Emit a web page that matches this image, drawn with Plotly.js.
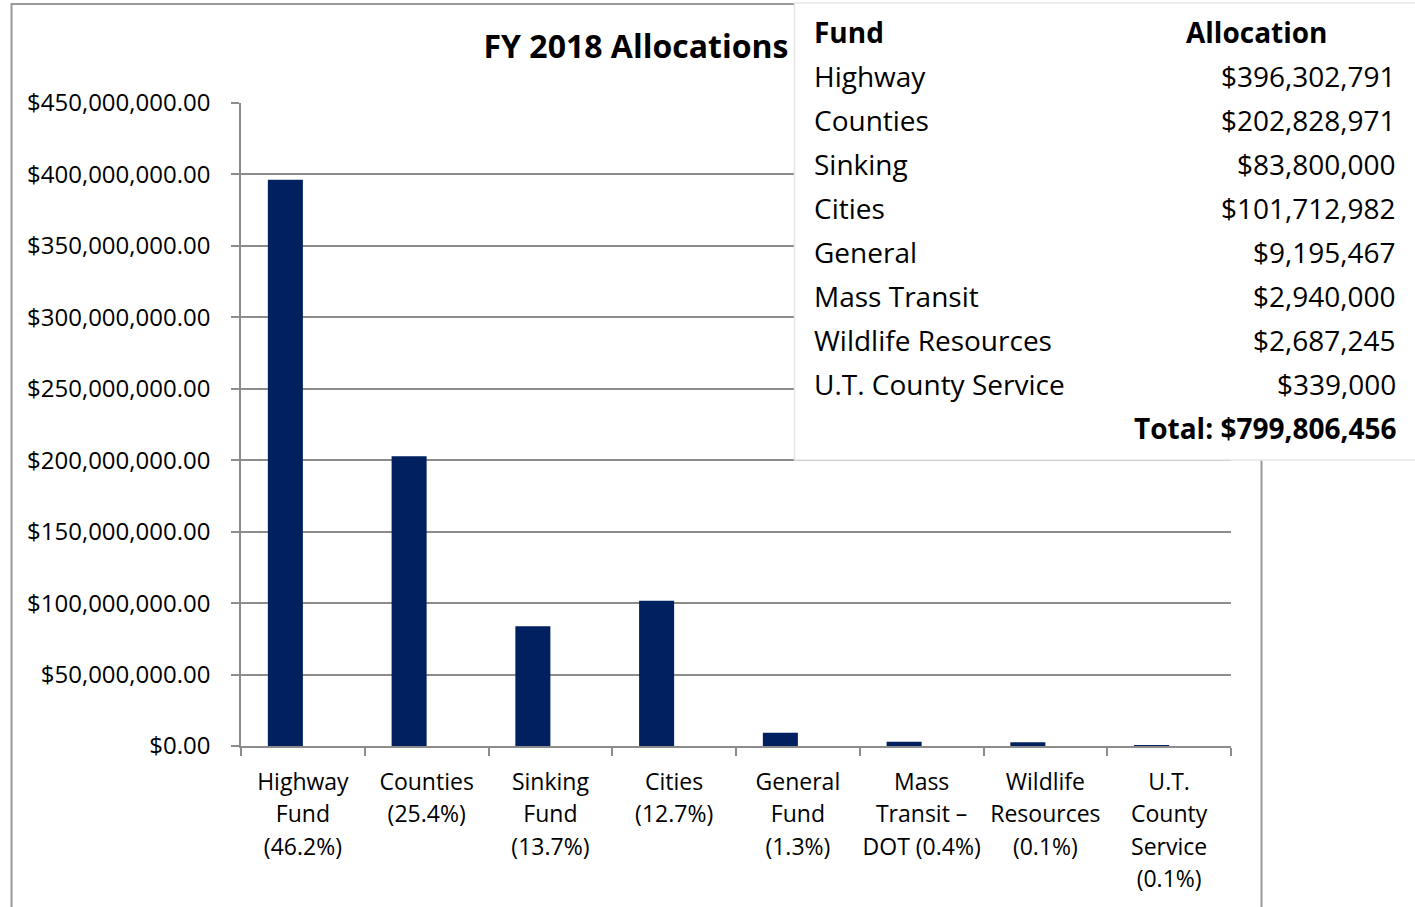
<!DOCTYPE html>
<html>
<head>
<meta charset="utf-8">
<script src="https://cdn.plot.ly/plotly-3.0.1.min.js"></script>
<style>
  html, body { margin: 0; padding: 0; background: #ffffff; }
  #chart { width: 1415px; height: 907px; }
</style>
</head>
<body>
<div id="chart"></div>
<script>
// ---- Data ----
const categories = [
  "Highway<br>Fund<br>(46.2%)",
  "Counties<br>(25.4%)",
  "Sinking<br>Fund<br>(13.7%)",
  "Cities<br>(12.7%)",
  "General<br>Fund<br>(1.3%)",
  "Mass<br>Transit –<br>DOT (0.4%)",
  "Wildlife<br>Resources<br>(0.1%)",
  "U.T.<br>County<br>Service<br>(0.1%)"
];
const allocations = [396302791, 202828971, 83800000, 101712982, 9195467, 2940000, 2687245, 339000];

const tableFunds = ["Highway", "Counties", "Sinking", "Cities", "General", "Mass Transit", "Wildlife Resources", "U.T. County Service"];
const tableAmounts = ["$396,302,791", "$202,828,971", "$83,800,000", "$101,712,982", "$9,195,467", "$2,940,000", "$2,687,245", "$339,000"];
const tableHeaders = ["Fund", "Allocation"];
const totalText = "Total: $799,806,456";
const chartTitle = "FY 2018 Allocations";

// ---- Layout helpers (pixel -> paper) ----
const W = 1415, H = 907;
const M = { l: 241, r: 184, t: 103, b: 161 };
const PW = W - M.l - M.r, PH = H - M.t - M.b;
const px = x => (x - M.l) / PW;
const py = y => (H - M.b - y) / PH;

const FONT = "Open Sans, Noto Sans, sans-serif";
const GRID = "#8c8c8c";

// category tick text: smaller glyphs inside a taller line box (wider line spacing)
const tickText = categories.map(c =>
  c.split("<br>").map(s => "<span style='font-size:23px'>" + s + "</span>").join("<br>"));

const trace = {
  type: "bar",
  x: categories,
  y: allocations,
  width: 0.283,
  offset: -0.283,
  marker: { color: "#002060" },
  hoverinfo: "x+y"
};

const TF = { family: FONT, size: 28, color: "#000" };
const annotations = [];
annotations.push({ xref: "paper", yref: "paper", x: px(812), y: py(32), xanchor: "left", yanchor: "middle",
  text: "<b>" + tableHeaders[0] + "</b>", showarrow: false, font: TF });
annotations.push({ xref: "paper", yref: "paper", x: px(1257), y: py(32), xanchor: "center", yanchor: "middle",
  text: "<b>" + tableHeaders[1] + "</b>", showarrow: false, font: TF });
tableFunds.forEach((f, i) => {
  const yy = 76 + i * 44;
  annotations.push({ xref: "paper", yref: "paper", x: px(812), y: py(yy), xanchor: "left", yanchor: "middle",
    text: f, showarrow: false, font: TF });
  annotations.push({ xref: "paper", yref: "paper", x: px(1398), y: py(yy), xanchor: "right", yanchor: "middle",
    text: tableAmounts[i], showarrow: false, font: TF });
});
annotations.push({ xref: "paper", yref: "paper", x: px(1399), y: py(428), xanchor: "right", yanchor: "middle",
  text: "<b>" + totalText + "</b>", showarrow: false, font: TF });

const layout = {
  width: W, height: H,
  margin: M,
  paper_bgcolor: "#ffffff",
  plot_bgcolor: "#ffffff",
  showlegend: false,
  font: { family: FONT, color: "#000" },
  title: {
    text: "<b>" + chartTitle + "</b>",
    xref: "container", yref: "container",
    x: 636 / W, y: 1 - 47 / H,
    xanchor: "center", yanchor: "middle",
    font: { family: FONT, size: 32, color: "#000" }
  },
  xaxis: {
    type: "category",
    tickvals: categories,
    ticktext: tickText,
    showline: true, linecolor: GRID, linewidth: 1.5,
    ticks: "outside", tickson: "boundaries", ticklen: 8, tickcolor: GRID, tickwidth: 1.5,
    showgrid: false,
    tickfont: { family: FONT, size: 25, color: "#000" },
    ticklabelstandoff: 12,
    tickangle: 0,
    fixedrange: true
  },
  yaxis: {
    range: [0, 450000000],
    dtick: 50000000,
    tick0: 0,
    tickformat: "$,.2f",
    showline: true, linecolor: GRID, linewidth: 1.5,
    ticks: "outside", ticklen: 8, tickcolor: GRID, tickwidth: 1.5,
    showgrid: true, gridcolor: GRID, gridwidth: 1.5,
    zeroline: false,
    tickfont: { family: FONT, size: 24, color: "#000" },
    ticklabelstandoff: 16,
    fixedrange: true
  },
  shapes: [
    { type: "rect", xref: "paper", yref: "paper", x0: px(11.5), x1: px(1261.5), y0: py(930), y1: py(4),
      line: { color: "#999999", width: 2 }, fillcolor: "rgba(0,0,0,0)", layer: "below" },
    { type: "rect", xref: "paper", yref: "paper", x0: px(794.5), x1: px(1430), y0: py(460), y1: py(3),
      line: { color: "#e6e6e6", width: 1.5 }, fillcolor: "#ffffff", layer: "above" }
  ],
  annotations: annotations
};

Plotly.newPlot("chart", [trace], layout, { displayModeBar: false, responsive: false });
</script>
</body>
</html>
